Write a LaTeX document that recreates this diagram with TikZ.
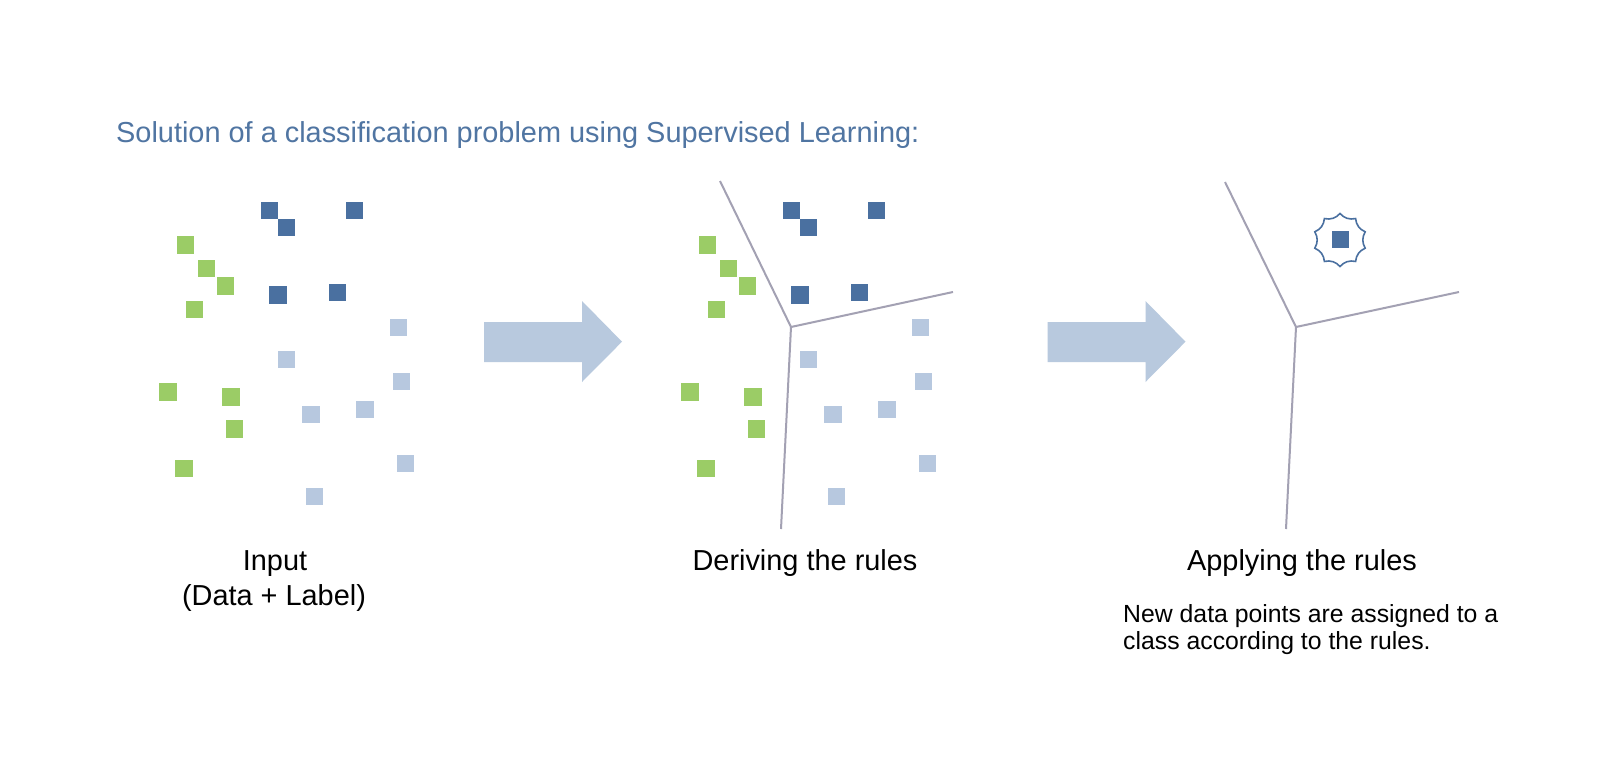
\documentclass[tikz,border=0pt]{standalone}
\usepackage{fontspec}
\setmainfont{Liberation Sans}
\usetikzlibrary{calc}
\definecolor{cdark}{HTML}{4A70A0}
\definecolor{cgreen}{HTML}{9BCC66}
\definecolor{clight}{HTML}{B7C8DF}
\definecolor{carrow}{HTML}{B8C9DE}
\definecolor{ctitle}{HTML}{5075A2}
\definecolor{cline}{HTML}{A3A1B3}
\tikzset{
  sq/.style={rectangle,inner sep=0pt,minimum size=17.5pt,draw=none},
  dk/.style={sq,fill=cdark},
  gr/.style={sq,fill=cgreen},
  lb/.style={sq,fill=clight},
  bnd/.style={draw=cline,line width=2pt},
  lbl/.style={font=\fontsize{28.9}{35}\selectfont,inner sep=0pt,anchor=base},
  desc/.style={font=\fontsize{24.8}{27}\selectfont,inner sep=0pt,anchor=base west},
}
\begin{document}
\begin{tikzpicture}[x=1pt,y=-1pt]
\useasboundingbox (0,0) rectangle (1623,778);
\fill[white] (0,0) rectangle (1623,778);
% title
\node[lbl,anchor=base west,text=ctitle] (title) at (116,142.3) {Solution of a classification problem using Supervised Learning:};
% panels 1 and 2
\foreach \p/\dx in {1/0,2/522}{
  \foreach \x/\y [count=\i] in {269.5/210.5,286.5/227.5,354.5/210.5,278/295,337.5/292.5}
    \node[dk] (p\p-d\i) at (\x+\dx,\y) {};
  \foreach \x/\y [count=\i] in {185.5/245,206.5/268.5,225.5/286,194.5/309.5,168/392,231/397,234.5/429,184/468.5}
    \node[gr] (p\p-g\i) at (\x+\dx,\y) {};
  \foreach \x/\y [count=\i] in {398.5/327.5,286.5/359.5,401.5/381.5,311/414.5,365/409.5,405.5/463.5,314.5/496.5}
    \node[lb] (p\p-l\i) at (\x+\dx,\y) {};
}
% boundaries panel 2
\coordinate (j2) at (791,327);
\coordinate (t2) at (720,181);
\coordinate (r2) at (953,292);
\coordinate (b2) at (781,529);
\draw[bnd] (t2) -- (j2) -- (r2);
\draw[bnd] (j2) -- (b2);
% boundaries panel 3
\coordinate (j3) at (1296,327);
\coordinate (t3) at (1225,182);
\coordinate (r3) at (1459,292);
\coordinate (b3) at (1286,529);
\draw[bnd] (t3) -- (j3) -- (r3);
\draw[bnd] (j3) -- (b3);
% starburst
\coordinate (sc) at (1340,240);
\draw[draw=cdark,line width=1.6pt,fill=white,line join=miter]
  ($(sc)+(90:26.5)$) \foreach \a in {126,162,...,450} { to[bend right=30] ($(sc)+(\a:26.5)$) } -- cycle;
\node[dk,minimum size=17pt] (newpt) at (1340.5,240) {};
% block arrows
\foreach \dx in {0,563.5}{
  \fill[carrow] (484+\dx,322) -- (582+\dx,322) -- (582+\dx,301) -- (622+\dx,341.7)
     -- (582+\dx,382) -- (582+\dx,362) -- (484+\dx,362) -- cycle;
}
% labels
\node[lbl] (in1) at (275,570) {Input};
\node[lbl] (in2) at (274,605) {(Data + Label)};
\node[lbl] (der) at (805,570) {Deriving the rules};
\node[lbl] (app) at (1302,570) {Applying the rules};
\node[desc] (d1) at (1123,622.5) {New data points are assigned to a};
\node[desc] (d2) at (1123,649.5) {class according to the rules.};
\end{tikzpicture}
\end{document}
